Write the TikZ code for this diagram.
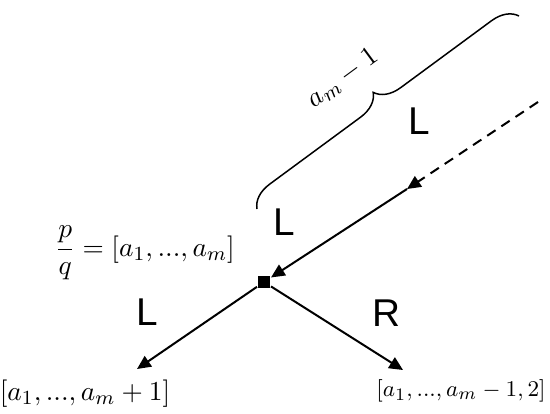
\documentclass[tikz,border=0pt]{standalone}
\usepackage{amsmath}
\usepackage{fontspec}
\setsansfont{Liberation Sans}
\usetikzlibrary{arrows.meta,decorations.pathreplacing,positioning}

\begin{document}
\begin{tikzpicture}[x=0.4pt,y=-0.4pt,>={Triangle[length=5.5pt,width=5pt]},line width=0.8pt,
	every node/.style={inner sep=0pt},
	move/.style={font=\sffamily\fontsize{15.5}{18}\selectfont},
	cf/.style={font=\fontsize{11}{13}\selectfont},
	brace/.style={decorate,decoration={brace,amplitude=10pt},line width=0.6pt}]
\useasboundingbox (0,0) rectangle (550,413);

\node[fill,minimum size=4.8pt]   (sq) at (264,282) {};
	\coordinate (top) at (407,189);
	\coordinate (far) at (538,102);
	\coordinate (lt)  at (137,369);
	\coordinate (rt)  at (403,370);

	\draw[->,dash pattern=on 4pt off 2.8pt] (far) -- (top);
	\draw[->] (top) -- (sq);
	\draw[->] (sq) -- (lt);
	\draw[->] (sq) -- (rt);

	\node[cf] (pq)   at (145,253) {$\dfrac{p}{q}=[a_1,...,a_m]$};
	\node[cf] (left) at (85,394)  {$[a_1,...,a_m+1]$};
	\node[font=\fontsize{9.5}{11}\selectfont] (right) at (461,391) {$[a_1,...,a_m-1,2]$};

	\node[move] (l1) at (419,121) {L};
	\node[move] (l2) at (284,222) {L};
	\node[move] (l3) at (147,312) {L};
	\node[move] (r1) at (386,313) {R};

	\coordinate (b1) at (257,209);
	\coordinate (b2) at (519,16);
	\draw[brace] (b1) -- (b2) node[cf,pos=0.45,sloped,above=17pt] (am) {$a_m-1$};
\end{tikzpicture}
\end{document}
